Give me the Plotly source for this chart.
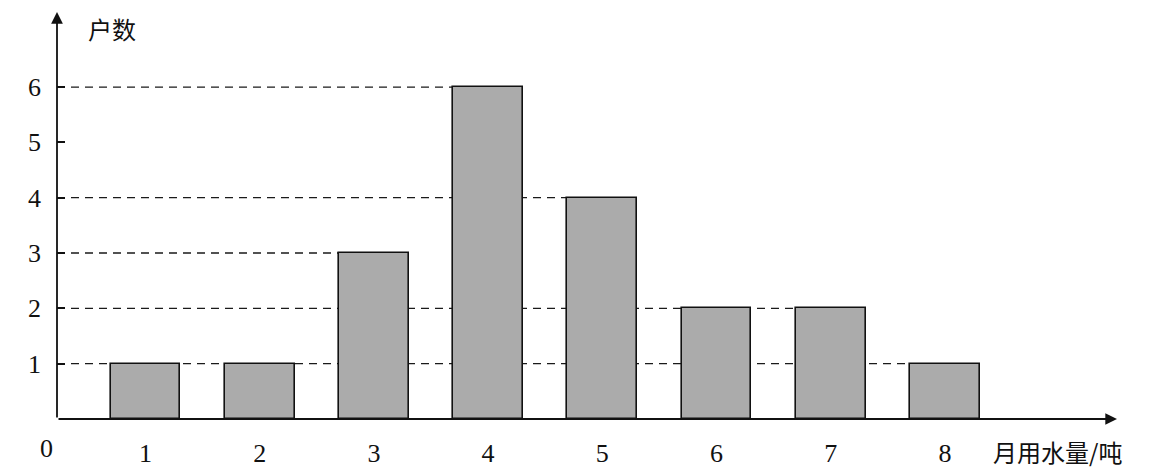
import plotly.graph_objects as go

# data
categories = [1, 2, 3, 4, 5, 6, 7, 8]
households = [1, 1, 3, 6, 4, 2, 2, 1]
y_ticks = [1, 2, 3, 4, 5, 6]
x_title = "月用水量/吨"
y_title = "户数"

BAR_W = 0.61
X0, X1 = 0.225, 9.507
Y0, Y1 = 0.0, 7.356
SERIF = "Liberation Serif, Times New Roman, serif"
CJK = "Noto Sans CJK SC"
INK = "#111111"

fig = go.Figure()
fig.add_trace(go.Bar(
    x=categories, y=households, width=BAR_W,
    marker=dict(color="#ababab", line=dict(color=INK, width=1.6)),
    showlegend=False, hoverinfo="skip",
))

# dashed guide lines from y-axis to the left edge of the rightmost bar with that height
shapes = []
for h in sorted(set(households)):
    xr = max(c for c, v in zip(categories, households) if v == h) - BAR_W / 2
    shapes.append(dict(type="line", xref="x", yref="y", x0=X0, x1=xr, y0=h, y1=h,
                       layer="below", line=dict(color="#1a1a1a", width=1.3, dash="8px,6px")))

annotations = [
    # axes with arrows
    dict(x=X1, y=0, ax=X0, ay=0, xref="x", yref="y", axref="x", ayref="y",
         showarrow=True, arrowhead=2, arrowsize=1.3, arrowwidth=1.8, arrowcolor=INK, text=""),
    dict(x=X0, y=Y1, ax=X0, ay=0, xref="x", yref="y", axref="x", ayref="y",
         showarrow=True, arrowhead=2, arrowsize=1.3, arrowwidth=1.8, arrowcolor=INK, text=""),
    # origin label
    dict(x=X0, y=0, xref="x", yref="y", text="0", showarrow=False, xanchor="center",
         yanchor="middle", xshift=-11, yshift=-29, font=dict(family=SERIF, size=26, color=INK)),
    # axis titles
    dict(x=(112 - 57) / 1060, y=1, xref="paper", yref="paper", text=y_title,
         showarrow=False, xanchor="center", yanchor="middle", yshift=-16,
         font=dict(family=CJK, size=24, color=INK)),
    dict(x=(1057 - 57) / 1060, y=0, xref="paper", yref="paper", text=x_title,
         showarrow=False, xanchor="center", yanchor="bottom", yshift=-52,
         font=dict(family=CJK, size=24, color=INK)),
]

fig.update_layout(
    width=1152, height=471,
    margin=dict(l=57, r=35, t=12, b=52, autoexpand=False),
    paper_bgcolor="white", plot_bgcolor="white",
    shapes=shapes, annotations=annotations,
    bargap=0,
    xaxis=dict(range=[X0, X1], tickvals=categories, ticktext=[str(c) for c in categories],
               showgrid=False, zeroline=False, showline=False, ticks="", automargin=False,
               ticklabelstandoff=16, tickfont=dict(family=SERIF, size=26, color=INK)),
    yaxis=dict(range=[Y0, Y1], tickvals=y_ticks, ticktext=[str(t) for t in y_ticks],
               showgrid=False, zeroline=False, showline=False, ticks="inside", automargin=False,
               ticklen=8, tickwidth=1.6, tickcolor=INK,
               ticklabelstandoff=15, tickfont=dict(family=SERIF, size=26, color=INK)),
)

fig.write_html("out.html", config={"displayModeBar": False},
               post_script="document.body.style.margin='0';")
